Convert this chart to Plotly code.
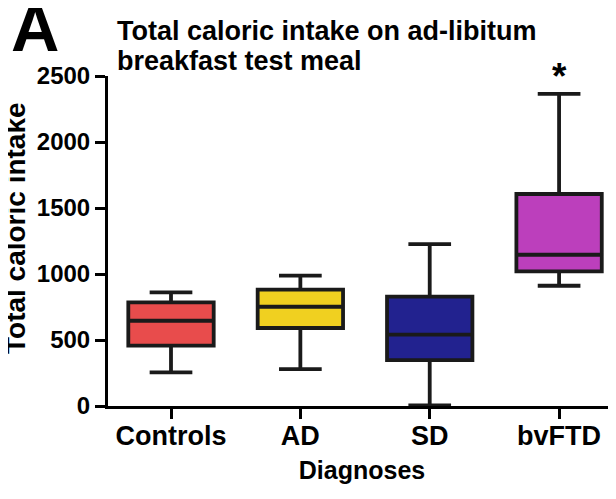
import plotly.graph_objects as go

categories = ["Controls", "AD", "SD", "bvFTD"]
lower_whisker = [255, 280, 5, 911]
q1 = [457, 591, 348, 1020]
median = [646, 752, 540, 1146]
q3 = [785, 881, 828, 1606]
upper_whisker = [861, 987, 1227, 2364]
colors = ["#E84C4C", "#F0D020", "#22228F", "#BC3FBC"]
y_ticks = [0, 500, 1000, 1500, 2000, 2500]
title_lines = ["Total caloric intake on ad-libitum", "breakfast test meal"]

FONT = "Liberation Sans, Arial, sans-serif"
OFF = 8  # page body margin of the HTML page
W, H = 616 - OFF, 499 - OFF
L = 108 - OFF
T = 76 - OFF
B = H - (406 - OFF)
PW, PH = W - L, H - T - B


def px_x(x):
    return (x - OFF - L) / PW


def px_y(y):
    return (H - B - (y - OFF)) / PH


fig = go.Figure()
for i, c in enumerate(categories):
    fig.add_trace(go.Box(
        x=[c], q1=[q1[i]], median=[median[i]], q3=[q3[i]],
        lowerfence=[lower_whisker[i]], upperfence=[upper_whisker[i]],
        fillcolor=colors[i], line=dict(color="#1a1a1a", width=3.8),
        width=0.66, whiskerwidth=0.5, boxpoints=False, showlegend=False,
        hoverinfo="skip",
    ))

fig.add_annotation(x="bvFTD", y=2364, yref="y", text="*", showarrow=False,
                   yshift=17, font=dict(size=37, color="black", family=FONT, weight="bold"))
fig.add_annotation(xref="paper", yref="paper", x=px_x(9), y=px_y(28), text="A",
                   showarrow=False, xanchor="left", yanchor="middle",
                   font=dict(size=67, color="black", family=FONT, weight="bold"))
for line, yc in zip(title_lines, [31, 61]):
    fig.add_annotation(xref="paper", yref="paper", x=px_x(115), y=px_y(yc), text=line,
                       showarrow=False, xanchor="left", yanchor="middle",
                       font=dict(size=27, color="black", family=FONT, weight="bold"))
fig.add_annotation(xref="paper", yref="paper", x=px_x(15), y=px_y(228),
                   text="Total caloric intake", textangle=-90, showarrow=False,
                   xanchor="center", yanchor="middle",
                   font=dict(size=28, color="black", family=FONT, weight="bold"))

fig.update_layout(
    width=W, height=H,
    margin=dict(l=L, r=0, t=T, b=B),
    paper_bgcolor="white", plot_bgcolor="white",
    font=dict(family=FONT, color="black"),
)
fig.update_xaxes(
    type="category", categoryorder="array", categoryarray=categories,
    range=[-0.487, 3.44], showline=True, linecolor="black", linewidth=3,
    ticks="outside", ticklen=10, tickwidth=3, tickcolor="black",
    ticklabelstandoff=-6,
    tickfont=dict(size=27, family=FONT, color="black", weight="bold"),
    title=dict(text="Diagnoses", font=dict(size=25, family=FONT, color="black", weight="bold"), standoff=12),
    showgrid=False, zeroline=False, automargin=False,
)
fig.update_yaxes(
    range=[0, 2500], tickvals=y_ticks, showline=True, linecolor="black", linewidth=3,
    ticks="outside", ticklen=10, tickwidth=3, tickcolor="black",
    tickfont=dict(size=24, family=FONT, color="black", weight="bold"),
    showgrid=False, zeroline=False, automargin=False,
)
fig.write_html("out.html")
